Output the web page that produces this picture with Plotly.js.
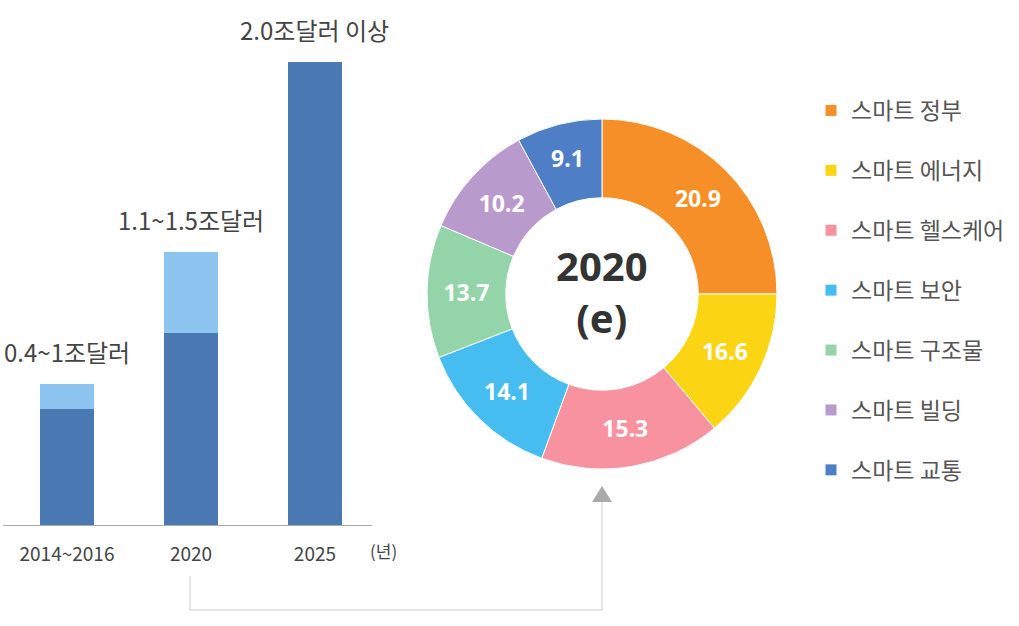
<!DOCTYPE html>
<html>
<head>
<meta charset="utf-8">
<script src="https://cdn.plot.ly/plotly-3.0.1.min.js"></script>
<style>html,body{margin:0;padding:0;background:#fff;}#chart{width:1019px;height:626px;}</style>
</head>
<body>
<div id="chart"></div>
<script>
// ---- data ----
var periods = ['2014~2016', '2020', '2025'];
var baseValues = [0.50, 0.83, 2.00];     // dark part (trillion USD)
var rangeValues = [0.11, 0.35, 0.00];    // light part (upper range)
var barLabels = ['0.4~1조달러', '1.1~1.5조달러', '2.0조달러 이상'];
var sectors = ['스마트 정부', '스마트 에너지', '스마트 헬스케어', '스마트 보안', '스마트 구조물', '스마트 빌딩', '스마트 교통'];
var shares = [20.9, 16.6, 15.3, 14.1, 13.7, 10.2, 9.1];          // printed labels (%)
var arcShares = [25.0, 13.9, 16.7, 13.5, 12.3, 10.7, 7.9];       // slice sizes as drawn in the picture (% of circle)
var sectorColors = ['#F78F28', '#FBD414', '#F8929F', '#45BDF0', '#93D5A8', '#B89ACD', '#4E7EC5'];
var centerText = '2020<br>(e)';

var W = 1019, H = 626;
function px(x) { return x / W; }
function py(y) { return 1 - y / H; }

var KR = '"Noto Sans CJK KR", "Noto Sans", sans-serif';

var traces = [
  { type: 'bar', x: [0, 1, 2], y: baseValues, width: 0.43, marker: { color: '#4A78B2' }, showlegend: false, hoverinfo: 'skip' },
  { type: 'bar', x: [0, 1, 2], y: rangeValues, width: 0.43, marker: { color: '#8EC4F0' }, showlegend: false, hoverinfo: 'skip' },
  {
    type: 'pie', labels: sectors, values: arcShares, text: shares.map(function (v) { return v.toFixed(1); }),
    sort: false, direction: 'clockwise', rotation: 0,
    hole: 0.55, marker: { colors: sectorColors, line: { color: '#ffffff', width: 1 } },
    texttemplate: '%{text}', textposition: 'inside', insidetextorientation: 'horizontal',
    textfont: { color: '#ffffff', size: 23, family: '"Noto Sans", sans-serif', weight: 'bold' },
    domain: { x: [px(427), px(777)], y: [py(469), py(119)] },
    showlegend: false, hoverinfo: 'label+text'
  }
];
// legend entries
sectors.forEach(function (s, i) {
  traces.push({
    type: 'scatter', mode: 'markers', x: [null], y: [null], name: s, legendgroup: 'g' + i,
    marker: { symbol: 'square', size: 11, color: sectorColors[i] }, hoverinfo: 'skip'
  });
});

var annotations = [];
for (var i = 0; i < periods.length; i++) {
  annotations.push({
    x: i, y: baseValues[i] + rangeValues[i], xref: 'x', yref: 'y', text: barLabels[i],
    showarrow: false, yanchor: 'middle', yshift: 32,
    font: { family: KR, size: 24, color: '#444444' }
  });
}
annotations.push({ x: px(383), y: py(565), xref: 'paper', yref: 'paper', text: '(년)', showarrow: false,
  font: { family: KR, size: 17, color: '#444444' } });
annotations.push({ x: px(602), y: py(291), xref: 'paper', yref: 'paper', text: centerText, showarrow: false,
  font: { family: '"Noto Sans", sans-serif', size: 40, color: '#333333', weight: 'bold' } });

var shapes = [
  { type: 'path', xref: 'paper', yref: 'paper',
    path: 'M ' + px(190) + ' ' + py(576) + ' L ' + px(190) + ' ' + py(610) + ' L ' + px(602) + ' ' + py(610) + ' L ' + px(602) + ' ' + py(500),
    line: { color: '#dddddd', width: 1.5 } },
  { type: 'path', xref: 'paper', yref: 'paper',
    path: 'M ' + px(592) + ' ' + py(502) + ' L ' + px(602) + ' ' + py(486) + ' L ' + px(612) + ' ' + py(502) + ' Z',
    fillcolor: '#aaaaaa', line: { width: 0 } }
];

var layout = {
  width: W, height: H, margin: { l: 0, r: 0, t: 0, b: 0 },
  paper_bgcolor: '#ffffff', plot_bgcolor: '#ffffff',
  barmode: 'stack', showlegend: true,
  uniformtext: { mode: 'show', minsize: 23 },
  xaxis: {
    domain: [px(3), px(372)], range: [-0.516, 2.46], tickmode: 'array', tickvals: [0, 1, 2], ticktext: periods,
    showgrid: false, zeroline: false, showline: true, linecolor: '#aaaaaa', linewidth: 1, ticks: '',
    ticklabelstandoff: 12, tickfont: { family: KR, size: 19, color: '#444444' }, fixedrange: true
  },
  yaxis: {
    domain: [py(525), py(20)], range: [0, 2.181], showgrid: false, zeroline: false, showline: false,
    showticklabels: false, ticks: '', fixedrange: true
  },
  legend: {
    x: px(811), y: py(89), xanchor: 'left', yanchor: 'top', tracegroupgap: 27,
    font: { family: KR, size: 23, color: '#555555' }, bgcolor: 'rgba(0,0,0,0)', borderwidth: 0
  },
  annotations: annotations, shapes: shapes
};

Plotly.newPlot('chart', traces, layout, { displayModeBar: false, staticPlot: true });
</script>
</body>
</html>
